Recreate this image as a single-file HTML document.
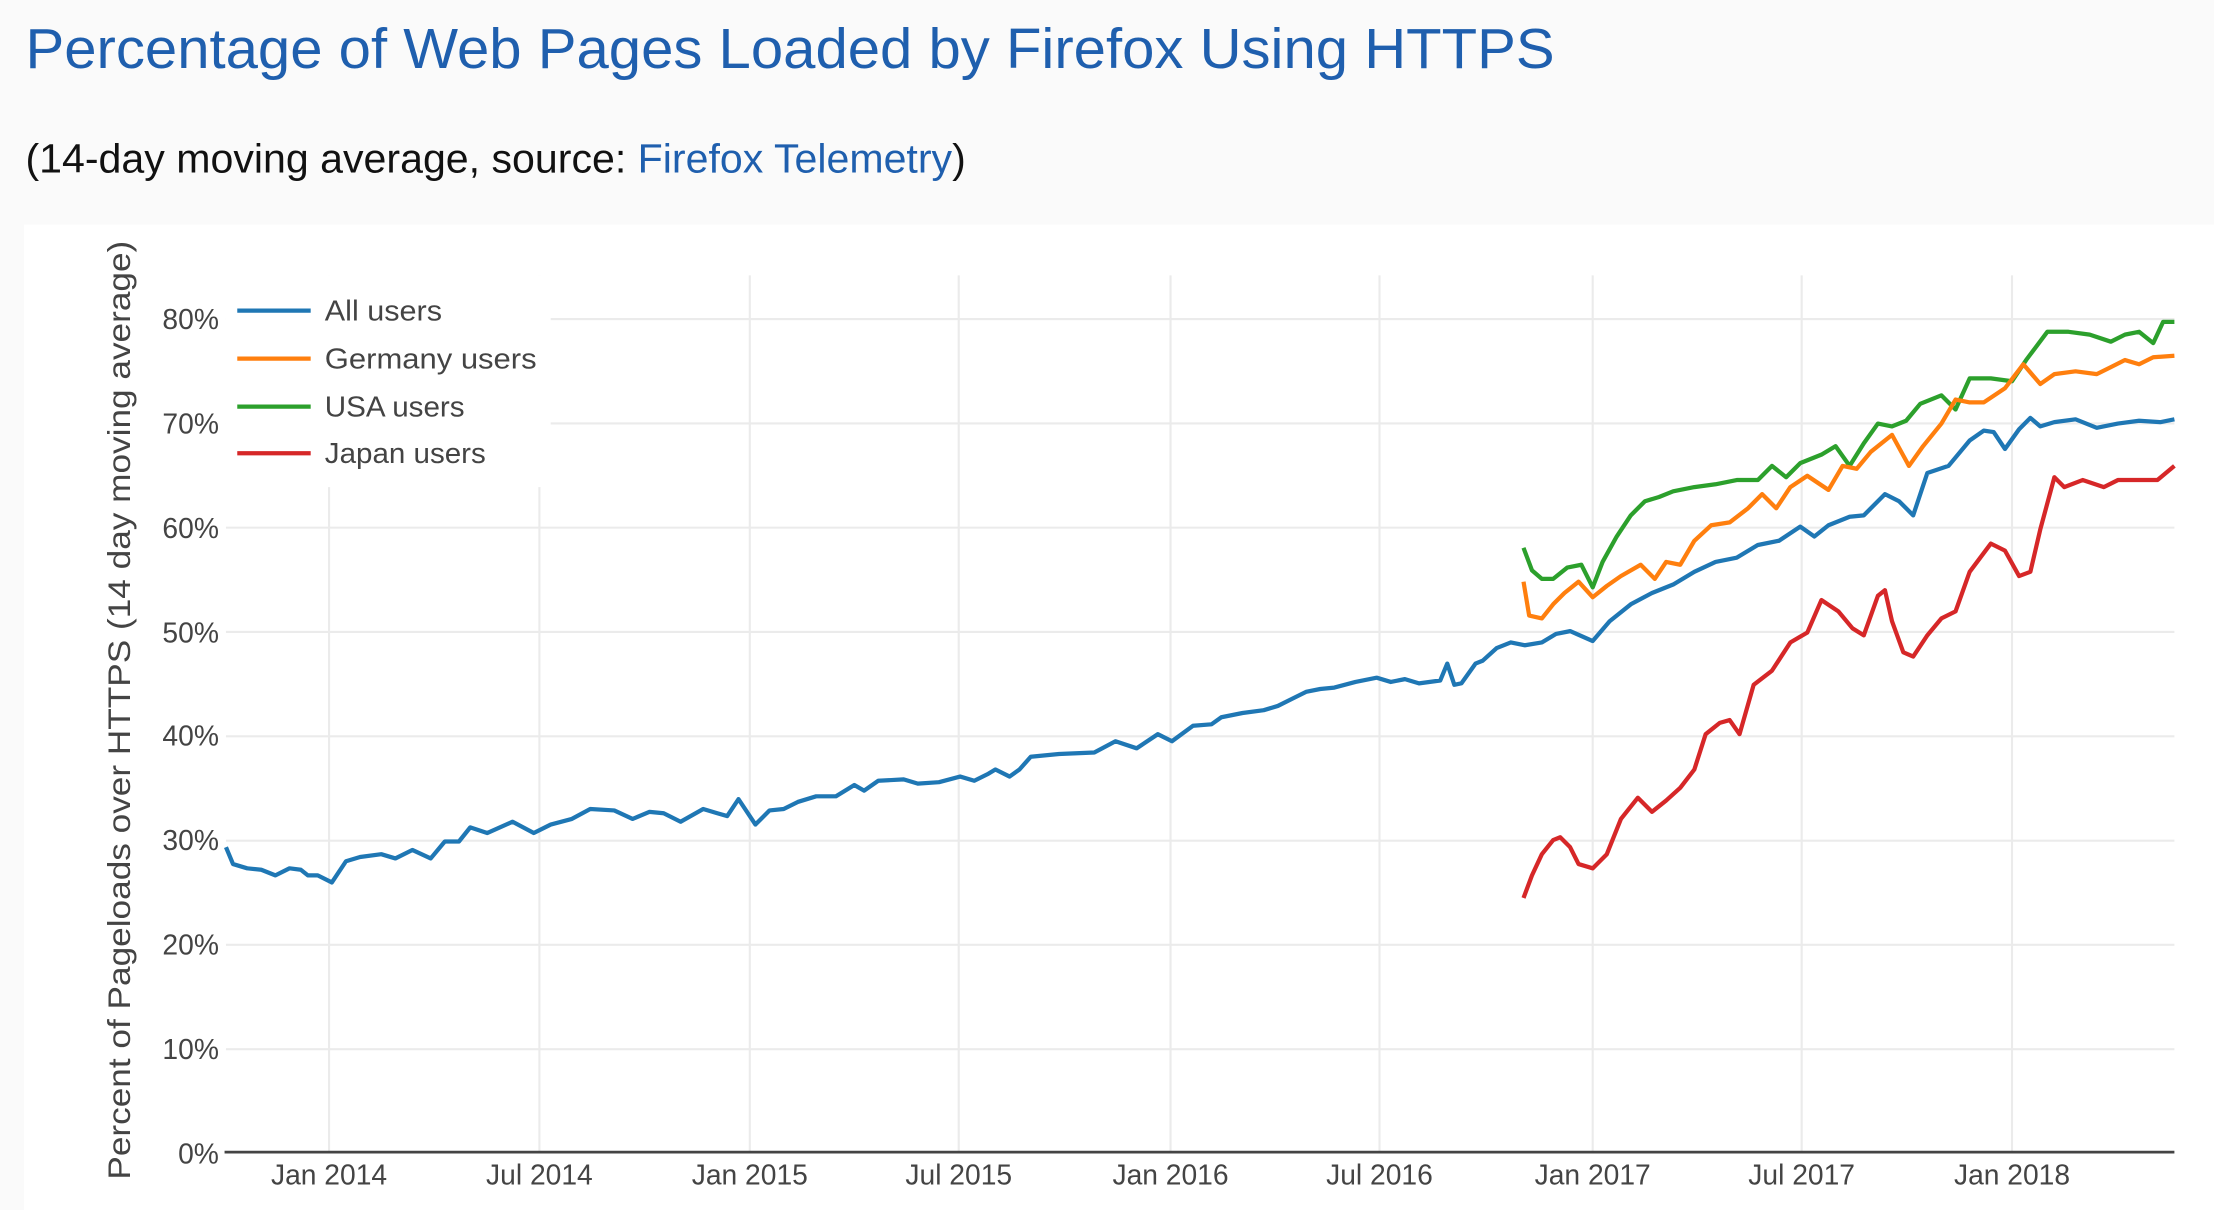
<!DOCTYPE html>
<html><head><meta charset="utf-8"><style>
html,body{margin:0;padding:0;background:#fafafa;width:2214px;height:1210px;overflow:hidden}
svg{display:block}
text{font-family:"Liberation Sans",sans-serif}
</style></head><body>
<svg width="2214" height="1210" viewBox="0 0 1568 857" xmlns="http://www.w3.org/2000/svg">
<rect x="0" y="0" width="1568" height="857" fill="#fafafa"/>
<rect x="17" y="159" width="1551" height="698" fill="#fff"/>
<text x="18" y="48" font-size="40" fill="#1f5fae" textLength="1083" lengthAdjust="spacingAndGlyphs">Percentage of Web Pages Loaded by Firefox Using HTTPS</text>
<text x="18" y="122" font-size="29" fill="#111" textLength="666" lengthAdjust="spacingAndGlyphs">(14-day moving average, source: <tspan fill="#1f5fae">Firefox Telemetry</tspan>)</text>
<g stroke="#ebebeb" stroke-width="1.5">
<line x1="160" x2="1540" y1="743.1" y2="743.1"/><line x1="160" x2="1540" y1="669.2" y2="669.2"/>
<line x1="160" x2="1540" y1="595.4" y2="595.4"/><line x1="160" x2="1540" y1="521.5" y2="521.5"/>
<line x1="160" x2="1540" y1="447.6" y2="447.6"/><line x1="160" x2="1540" y1="373.7" y2="373.7"/>
<line x1="160" x2="1540" y1="299.9" y2="299.9"/><line x1="160" x2="1540" y1="226" y2="226"/>
<line x1="233" x2="233" y1="195" y2="817"/><line x1="382" x2="382" y1="195" y2="817"/>
<line x1="531" x2="531" y1="195" y2="817"/><line x1="679" x2="679" y1="195" y2="817"/>
<line x1="829" x2="829" y1="195" y2="817"/><line x1="977" x2="977" y1="195" y2="817"/>
<line x1="1128" x2="1128" y1="195" y2="817"/><line x1="1276" x2="1276" y1="195" y2="817"/>
<line x1="1425" x2="1425" y1="195" y2="817"/>
</g>
<line x1="159" x2="1540" y1="816" y2="816" stroke="#444" stroke-width="2"/>
<g font-size="20" fill="#444" text-anchor="end">
<text x="155" y="824">0%</text><text x="155" y="750">10%</text><text x="155" y="676">20%</text>
<text x="155" y="602">30%</text><text x="155" y="528">40%</text><text x="155" y="455">50%</text>
<text x="155" y="381">60%</text><text x="155" y="307">70%</text><text x="155" y="233">80%</text>
</g>
<g font-size="20" fill="#444" text-anchor="middle">
<text x="233" y="839">Jan 2014</text><text x="382" y="839">Jul 2014</text><text x="531" y="839">Jan 2015</text>
<text x="679" y="839">Jul 2015</text><text x="829" y="839">Jan 2016</text><text x="977" y="839">Jul 2016</text>
<text x="1128" y="839">Jan 2017</text><text x="1276" y="839">Jul 2017</text><text x="1425" y="839">Jan 2018</text>
</g>
<text transform="translate(92,503) rotate(-90)" font-size="22" fill="#444" text-anchor="middle" textLength="665" lengthAdjust="spacingAndGlyphs">Percent of Pageloads over HTTPS (14 day moving average)</text>
<g fill="none" stroke-width="3" stroke-linejoin="round">
<polyline stroke="#1f77b4" points="160,600 165,612 175,615 185,616 195,620 205,615 213,616 218,620 225,620 235,625 245,610 255,607 270,605 280,608 292,602 305,608 315,596 325,596 333,586 345,590 363,582 378,590 390,584 405,580 418,573 435,574 448,580 460,575 470,576 482,582 498,573 508,576 515,578 523,566 535,584 545,574 555,573 565,568 578,564 592,564 605,556 612,560 622,553 640,552 650,555 665,554 680,550 690,553 700,548 705,545 715,550 722,545 730,536 750,534 775,533 790,525 805,530 820,520 830,525 845,514 858,513 865,508 880,505 895,503 905,500 915,495 925,490 935,488 945,487 960,483 975,480 985,483 995,481 1005,484 1020,482 1025,470 1030,485 1035,484 1045,470 1050,468 1060,459 1070,455 1080,457 1092,455 1102,449 1112,447 1128,454 1140,440 1155,428 1170,420 1185,414 1200,405 1215,398 1230,395 1245,386 1260,383 1275,373 1285,380 1295,372 1310,366 1320,365 1335,350 1345,355 1355,365 1365,335 1380,330 1395,312 1405,305 1412,306 1420,318 1430,304 1438,296 1445,302 1455,299 1470,297 1485,303 1500,300 1515,298 1530,299 1540,297"/>
<polyline stroke="#2ca02c" points="1079,388 1085,404 1092,410 1100,410 1110,402 1120,400 1128,416 1135,398 1145,380 1155,365 1165,355 1175,352 1185,348 1200,345 1215,343 1230,340 1245,340 1255,330 1265,338 1275,328 1290,322 1300,316 1310,330 1320,314 1330,300 1340,302 1350,298 1360,286 1375,280 1385,290 1395,268 1410,268 1425,270 1435,255 1450,235 1465,235 1480,237 1495,242 1505,237 1515,235 1525,243 1532,228 1540,228"/>
<polyline stroke="#ff7f0e" points="1079,412 1083,436 1092,438 1100,428 1108,420 1118,412 1128,423 1138,415 1148,408 1162,400 1172,410 1180,398 1190,400 1200,383 1212,372 1225,370 1238,360 1248,350 1258,360 1268,345 1280,337 1295,347 1305,330 1315,332 1325,320 1340,308 1352,330 1362,316 1375,300 1385,283 1395,285 1405,285 1420,275 1433,258 1445,272 1455,265 1470,263 1485,265 1495,260 1505,255 1515,258 1525,253 1540,252"/>
<polyline stroke="#d62728" points="1079,636 1085,620 1092,605 1100,595 1105,593 1112,600 1118,612 1128,615 1138,605 1148,580 1160,565 1170,575 1180,567 1190,558 1200,545 1208,520 1218,512 1225,510 1232,520 1242,485 1255,475 1268,455 1280,448 1290,425 1302,433 1312,445 1320,450 1330,422 1335,418 1340,440 1348,462 1355,465 1365,450 1375,438 1385,433 1395,405 1410,385 1420,390 1430,408 1438,405 1445,375 1455,338 1462,345 1475,340 1490,345 1500,340 1515,340 1528,340 1540,330"/>
</g>
<rect x="160" y="195" width="230" height="150" fill="#fff"/>
<g stroke-width="3">
<line x1="168" x2="220" y1="220" y2="220" stroke="#1f77b4"/>
<line x1="168" x2="220" y1="254" y2="254" stroke="#ff7f0e"/>
<line x1="168" x2="220" y1="288" y2="288" stroke="#2ca02c"/>
<line x1="168" x2="220" y1="321" y2="321" stroke="#d62728"/>
</g>
<g font-size="20" fill="#444">
<text x="230" y="227" textLength="83" lengthAdjust="spacingAndGlyphs">All users</text>
<text x="230" y="261" textLength="150" lengthAdjust="spacingAndGlyphs">Germany users</text>
<text x="230" y="295" textLength="99" lengthAdjust="spacingAndGlyphs">USA users</text>
<text x="230" y="328" textLength="114" lengthAdjust="spacingAndGlyphs">Japan users</text>
</g>
</svg>
</body></html>
